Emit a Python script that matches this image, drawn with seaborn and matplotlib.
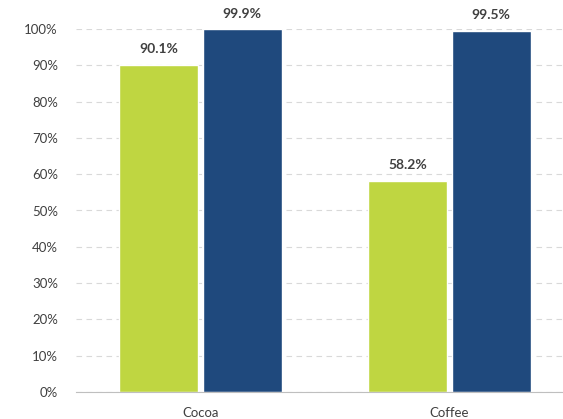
import matplotlib
matplotlib.use("Agg")
import matplotlib.pyplot as plt
import seaborn as sns
import pandas as pd
from matplotlib.ticker import FixedLocator

categories = ["Cocoa", "Coffee"]
series_names = ["Series A", "Series B"]
series_a = [90.1, 58.2]
series_b = [99.9, 99.5]
colors = ["#BFD641", "#1F497D"]

rows = []
for c, a, b in zip(categories, series_a, series_b):
    rows.append({"cat": c, "series": series_names[0], "val": a})
    rows.append({"cat": c, "series": series_names[1], "val": b})
df = pd.DataFrame(rows)

sns.set_style("white")
plt.rcParams['font.family'] = ['Lato', 'DejaVu Sans']

fig = plt.figure(figsize=(5.63, 4.19), dpi=100)
ax = fig.add_axes([76/563, (419-392)/419, (563-76)/563, (392-29)/419])

sns.barplot(data=df, x="cat", y="val", hue="series", palette=colors,
            width=0.67, gap=0.05, ax=ax, legend=False, saturation=1)

ax.set_ylim(0, 100)
ax.set_xlim(-0.5, 1.456)
ax.set_yticks(range(0, 101, 10))
ax.set_yticklabels([f"{v}%" for v in range(0, 101, 10)], fontsize=9.5, color="#404040")
ax.set_xticklabels(categories, fontsize=9.5, color="#404040")
ax.tick_params(axis="x", length=0, pad=11)
ax.tick_params(axis="y", length=0, pad=13)
ax.xaxis.set_minor_locator(FixedLocator([-0.5, 0.5, 1.5]))
ax.tick_params(axis="x", which="minor", length=5, color="#BFBFBF", width=0.8)

ax.grid(axis="y", linestyle=(0, (5, 4)), color="#D9D9D9", linewidth=0.8)
ax.set_axisbelow(True)
for s in ["left", "right", "top"]:
    ax.spines[s].set_visible(False)
ax.spines["bottom"].set_color("#BFBFBF")
ax.spines["bottom"].set_linewidth(0.8)
ax.set_xlabel("")
ax.set_ylabel("")

for cont in ax.containers:
    ax.bar_label(cont, labels=[f"{v:.1f}%" for v in cont.datavalues],
                 padding=7, fontsize=10, fontweight="bold", color="#404040")

fig.savefig("out.png", dpi=100)
